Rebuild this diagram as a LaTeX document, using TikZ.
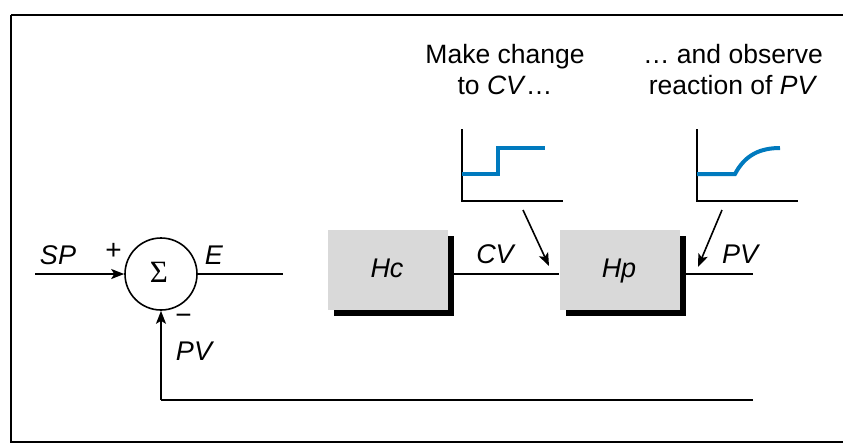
\documentclass[tikz,border=0pt]{standalone}
\usepackage{fontspec}
\setmainfont{Liberation Sans}
\newfontfamily\serifsym{Liberation Serif}
\usetikzlibrary{arrows.meta,shadows}
\definecolor{plotblue}{RGB}{0,122,190}
\definecolor{boxgray}{RGB}{217,217,217}
\begin{document}
\begin{tikzpicture}[x=1pt,y=-1pt,
  lbl/.style={inner sep=0pt,anchor=base,font=\fontsize{26.5}{30}\selectfont},
  ilbl/.style={inner sep=0pt,anchor=base,font=\fontsize{27}{31}\selectfont\itshape},
  sgn/.style={inner sep=0pt,anchor=center,font=\fontsize{28}{32}\selectfont},
  blockbox/.style={fill=boxgray,minimum width=120pt,minimum height=80pt,inner sep=0pt,
     drop shadow={shadow xshift=6pt,shadow yshift=-6pt,fill=black,opacity=1}},
  sumnode/.style={circle,draw,line width=1.6pt,minimum size=72pt,inner sep=0pt},
  wire/.style={line width=1.6pt},
  arr/.style={line width=1.6pt,-{Stealth[length=13pt,width=10pt,inset=3pt]}},
  axis/.style={line width=1.6pt},
  curve/.style={line width=4pt,plotblue}]
\useasboundingbox (0,0) rectangle (843,445);
\draw[line width=2.2pt] (11,15) -- (850,15) (11,15) -- (11,442) -- (850,442);
% nodes
\node[sumnode] (sum) at (161,274) {};
\node[inner sep=0pt,font=\serifsym\fontsize{31}{35}\selectfont] (sigma) at (159,272.5) {Σ};
\node[blockbox] (hc) at (388,270) {};
\node[blockbox] (hp) at (619.5,270) {};
\node[ilbl] (hclbl) at (387,277) {Hc};
\node[ilbl] (hplbl) at (619,277) {Hp};
\coordinate (spin) at (35,274);
\coordinate (eout) at (283,274);
\coordinate (hcr) at (454,274);
\coordinate (pvout) at (753,274);
\coordinate (fbr) at (753,400);
\coordinate (fbl) at (161,400);
% connectors
\draw[arr] (spin) -- (sum.west);
\draw[wire] (sum.east) -- (eout);
\draw[wire] (hcr) -- (hp.west |- hcr);
\draw[wire] (hp.east |- pvout) ++(6,0) -- (pvout);
\draw[wire] (fbr) -- (fbl);
\draw[arr] (fbl) -- (sum.south);
% labels
\node[ilbl] (sp) at (58,264) {SP};
\node[sgn] (plus) at (113.5,251.5) {+};
\node[ilbl] (e) at (214,264) {E};
\node[sgn] (minus) at (183.5,319.5) {−};
\node[ilbl] (pvl) at (194,360) {PV};
\node[ilbl] (cv) at (495,263) {CV};
\node[ilbl] (pvr) at (740,263) {PV};
\node[lbl] (t1a) at (505,63) {Make change};
\node[lbl] (t1b) at (505,94) {to \textit{CV}…};
\node[lbl] (t2a) at (733,63) {… and observe};
\node[lbl] (t2b) at (733,94) {reaction of \textit{PV}};
% plot 1
\coordinate (p1a) at (523,210);
\coordinate (p1b) at (549,266);
\draw[axis] (462,129) -- (462,201) -- (563,201);
\draw[curve] (462,174) -- (498,174) -- (498,148) -- (545,148);
\draw[arr] (p1a) -- (p1b);
% plot 2
\coordinate (p2a) at (722,210);
\coordinate (p2b) at (698,267);
\draw[axis] (697,129) -- (697,201) -- (798,201);
\draw[curve] (697,174) -- (735,174) .. controls (745,155) and (760,148) .. (780,148);
\draw[arr] (p2a) -- (p2b);
\end{tikzpicture}
\end{document}
